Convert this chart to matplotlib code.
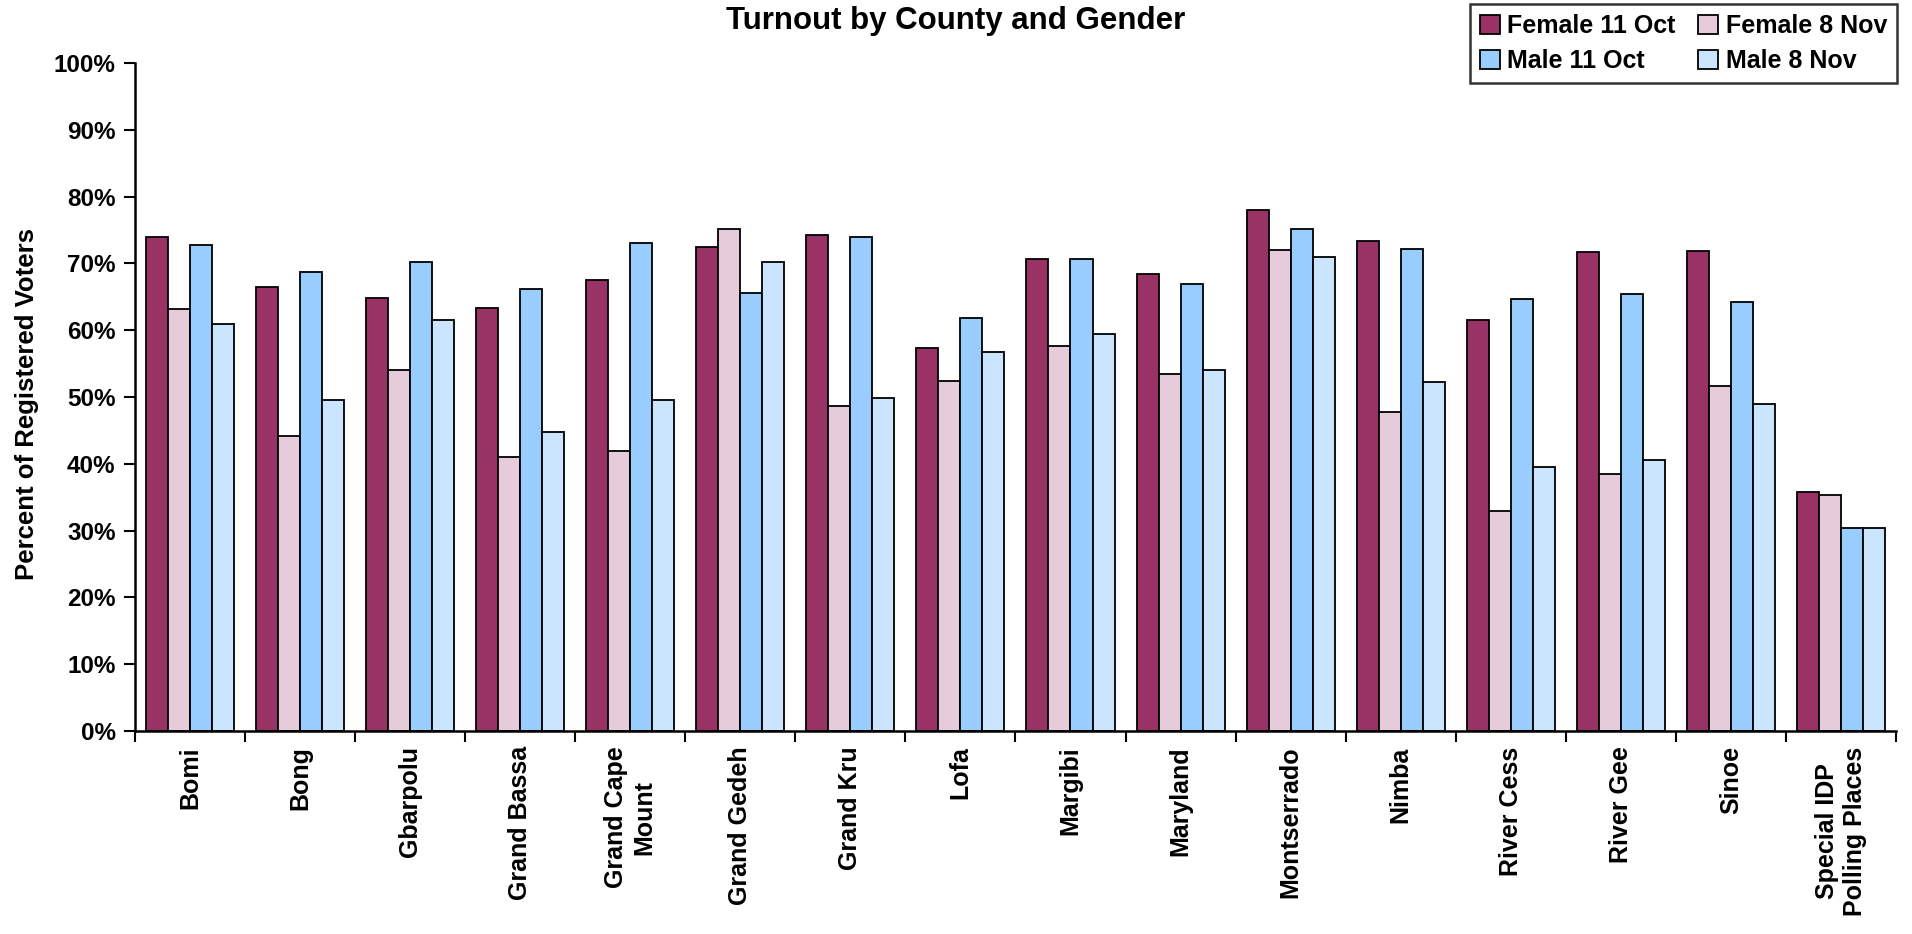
"""Turnout by county and gender: grouped bars, two rounds, both genders."""
import numpy as np
import matplotlib
matplotlib.use("Agg")
import matplotlib.pyplot as plt
from matplotlib.font_manager import FontProperties
from matplotlib.ticker import FuncFormatter

# ── data ────────────────────────────────────────────────────────────────
COUNTIES = ["Bomi", "Bong", "Gbarpolu", "Grand Bassa", "Grand Cape\nMount",
            "Grand Gedeh", "Grand Kru", "Lofa", "Margibi", "Maryland",
            "Montserrado", "Nimba", "River Cess", "River Gee", "Sinoe",
            "Special IDP\nPolling Places"]

female_11oct = [74.0, 66.5, 64.8, 63.3, 67.5, 72.5, 74.3, 57.4, 70.7, 68.4,
                78.0, 73.4, 61.5, 71.7, 71.9, 35.8]
female_8nov = [63.2, 44.1, 54.1, 41.0, 41.9, 75.2, 48.7, 52.4, 57.7, 53.5,
               72.0, 47.8, 32.9, 38.5, 51.7, 35.3]
male_11oct = [72.8, 68.7, 70.2, 66.2, 73.1, 65.6, 74.0, 61.8, 70.7, 66.9,
              75.2, 72.2, 64.7, 65.4, 64.2, 30.4]
male_8nov = [60.9, 49.6, 61.5, 44.8, 49.6, 70.2, 49.8, 56.7, 59.4, 54.0,
             71.0, 52.2, 39.5, 40.6, 49.0, 30.4]

SERIES = [("Female 11 Oct", female_11oct, "#993366"),
          ("Female 8 Nov", female_8nov, "#E6CCDA"),
          ("Male 11 Oct", male_11oct, "#99CCFF"),
          ("Male 8 Nov", male_8nov, "#CCE5FF")]

FAMILY = ["Liberation Sans", "DejaVu Sans"]


def bold(size):
    return FontProperties(family=FAMILY, weight="bold", size=size)


# ── plot ────────────────────────────────────────────────────────────────
fig = plt.figure(figsize=(19.12, 9.34), dpi=100)
ax = fig.add_axes([0.0706, 0.2173, 0.9210, 0.7152])

x = np.arange(len(COUNTIES))
width = 0.2
handles = []
for i, (label, vals, color) in enumerate(SERIES):
    h = ax.bar(x + (i - 1.5) * width, vals, width, color=color,
               edgecolor="black", linewidth=1.3, label=label)
    handles.append(h)

ax.set_xlim(-0.5, len(COUNTIES) - 0.5)
ax.set_ylim(0, 100)
ax.set_yticks(np.arange(0, 101, 10))
ax.yaxis.set_major_formatter(FuncFormatter(lambda v, _: f"{v:.0f}%"))
for t in ax.get_yticklabels():
    t.set_fontproperties(bold(17.5))

# boundary ticks (major) and centred labels (minor)
ax.set_xticks(np.arange(-0.5, len(COUNTIES), 1.0))
ax.set_xticklabels([])
ax.set_xticks(x, minor=True)
ax.set_xticklabels(COUNTIES, minor=True, rotation=90, fontproperties=bold(18),
                   ha="center", va="top", multialignment="center")
ax.tick_params(axis="x", which="minor", length=0, pad=11)
ax.tick_params(axis="x", which="major", direction="out", length=8, width=1.5)
ax.tick_params(axis="y", direction="out", length=8, width=1.5, pad=6)

for side in ("top", "right"):
    ax.spines[side].set_visible(False)
for side in ("left", "bottom"):
    ax.spines[side].set_linewidth(1.8)

ax.set_ylabel("Percent of Registered Voters", fontproperties=bold(18.5))
ax.yaxis.set_label_coords(-0.0545, 0.49)

fig.text(0.5, 0.977, "Turnout by County and Gender", ha="center", va="center",
         fontproperties=bold(22.5))

leg = fig.legend([handles[0], handles[2], handles[1], handles[3]],
                 ["Female 11 Oct", "Male 11 Oct", "Female 8 Nov", "Male 8 Nov"],
                 ncol=2, loc="upper right", bbox_to_anchor=(0.9922, 0.9957),
                 prop=bold(18), frameon=True, fancybox=False,
                 handlelength=0.8, handleheight=0.8, handletextpad=0.3,
                 columnspacing=0.9, borderpad=0.4, labelspacing=0.45,
                 borderaxespad=0)
leg.get_frame().set_edgecolor("black")
leg.get_frame().set_linewidth(1.8)

fig.savefig("out.png", dpi=100)
